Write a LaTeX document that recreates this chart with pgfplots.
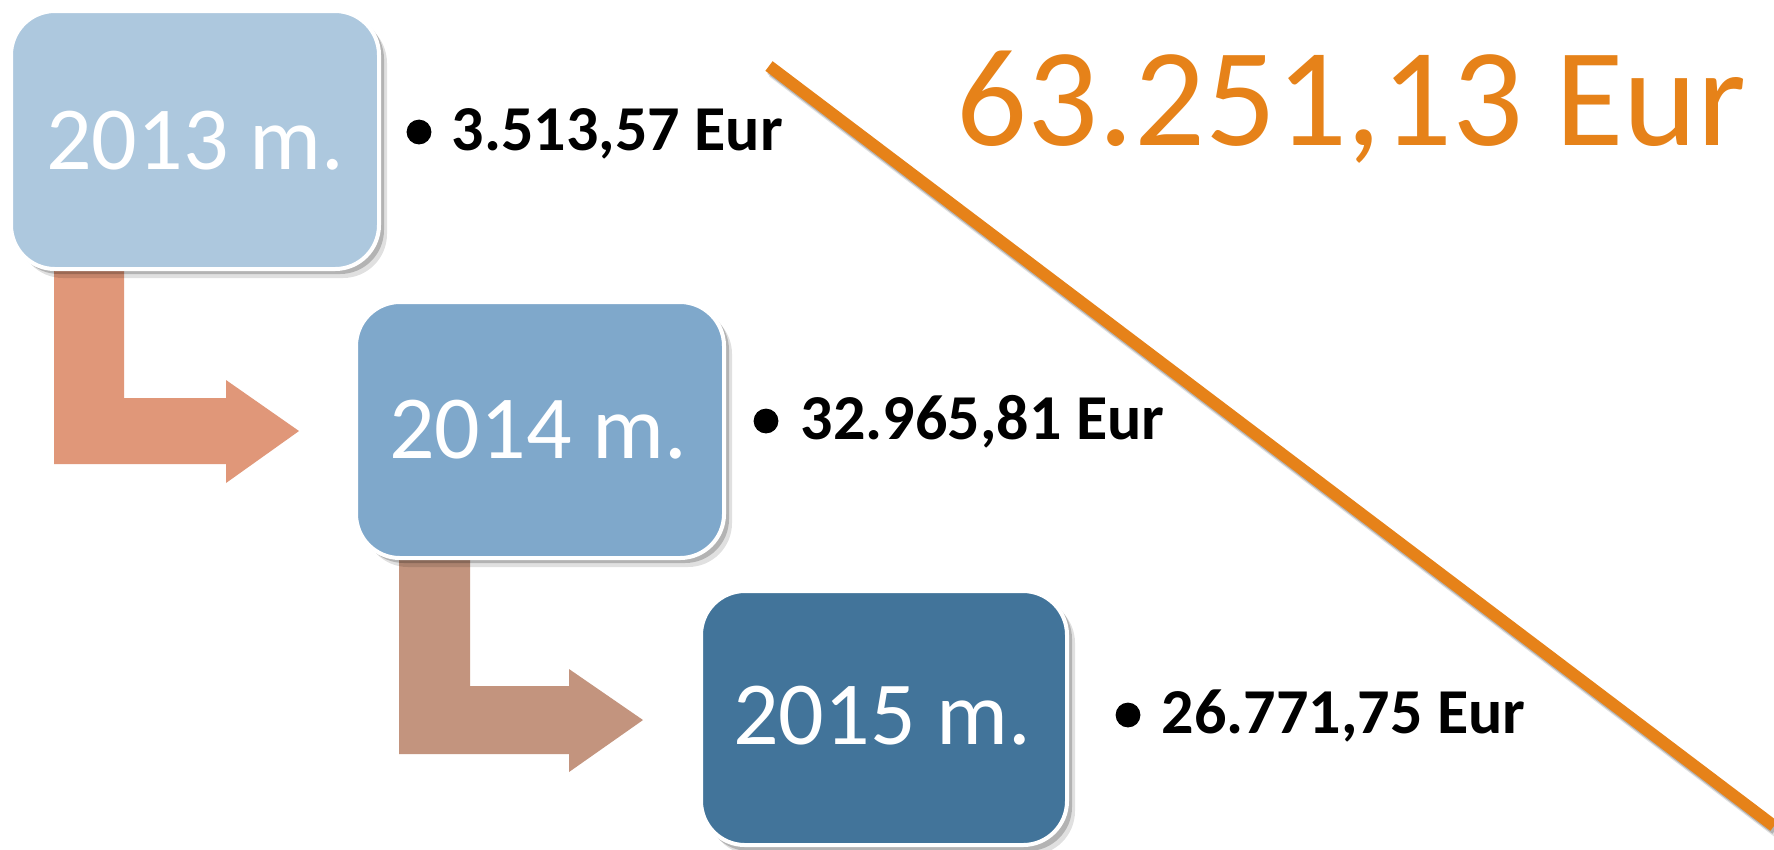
\documentclass[border=0pt]{standalone}
\usepackage{pgfplots}
\pgfplotsset{compat=1.18}
\usepackage{fontspec}
\setmainfont{Carlito}
\definecolor{boxA}{RGB}{173,200,222}
\definecolor{boxB}{RGB}{127,168,203}
\definecolor{boxC}{RGB}{66,116,154}
\definecolor{arrA}{RGB}{224,151,121}
\definecolor{arrB}{RGB}{195,148,126}
\definecolor{orng}{RGB}{230,130,25}
\begin{document}
\begin{tikzpicture}
\begin{axis}[name=ax, x=0.25pt, y=0.25pt, y dir=reverse,
  xmin=0, xmax=1774, ymin=0, ymax=849, hide axis, clip=true]
% background
\addplot[draw=none, fill=white] coordinates {(0,0) (1774,0) (1774,849) (0,849)} -- cycle;
% arrows
\addplot[draw=none, fill=arrA] coordinates {(54,262) (124,262) (124,398) (226,398) (226,380) (299,431) (226,483) (226,464) (54,464)} -- cycle;
\addplot[draw=none, fill=arrB] coordinates {(399,552) (470,552) (470,686) (569,686) (569,669) (643,720) (569,772) (569,754) (399,754)} -- cycle;
% orange line with shadow
\addplot[black, opacity=0.12, line width=3.4pt] coordinates {(773,71) (1778,831)};
\addplot[black, opacity=0.2, line width=3pt] coordinates {(771,69) (1776,829)};
\addplot[orng, line width=3pt] coordinates {(769,66) (1774,826)};
% box shadows
\addplot[draw=none, fill=black, opacity=0.12, rounded corners=11pt] coordinates {(19,19) (387,19) (387,278) (19,278)} -- cycle;
\addplot[draw=none, fill=black, opacity=0.2, rounded corners=11pt] coordinates {(15,15) (384,15) (384,274) (15,274)} -- cycle;
\addplot[draw=none, fill=black, opacity=0.12, rounded corners=11pt] coordinates {(364,310) (732,310) (732,567) (364,567)} -- cycle;
\addplot[draw=none, fill=black, opacity=0.2, rounded corners=11pt] coordinates {(360,306) (729,306) (729,563) (360,563)} -- cycle;
\addplot[draw=none, fill=black, opacity=0.12, rounded corners=11pt] coordinates {(709,599) (1075,599) (1075,855) (709,855)} -- cycle;
\addplot[draw=none, fill=black, opacity=0.2, rounded corners=11pt] coordinates {(705,595) (1072,595) (1072,851) (705,851)} -- cycle;
% boxes
\addplot[draw=white, line width=1pt, fill=boxA, rounded corners=11pt] coordinates {(11,11) (379,11) (379,269) (11,269)} -- cycle;
\addplot[draw=white, line width=1pt, fill=boxB, rounded corners=11pt] coordinates {(356,302) (724,302) (724,558) (356,558)} -- cycle;
\addplot[draw=white, line width=1pt, fill=boxC, rounded corners=11pt] coordinates {(701,591) (1067,591) (1067,845) (701,845)} -- cycle;
% box labels
\node[text=white, inner sep=0, font=\fontsize{22.5}{27}\selectfont] at (axis cs:195,141) {2013 m.};
\node[text=white, inner sep=0, font=\fontsize{22.5}{27}\selectfont] at (axis cs:538,430) {2014 m.};
\node[text=white, inner sep=0, font=\fontsize{22.5}{27}\selectfont] at (axis cs:882,716) {2015 m.};
% bullets
\addplot[only marks, mark=*, mark size=2.9pt, black] coordinates {(419,132) (766,421) (1128,715)};
\node[anchor=base west, inner sep=0, font=\bfseries\fontsize{16}{19}\selectfont] at (axis cs:451,150) {3.513,57 Eur};
\node[anchor=base west, inner sep=0, font=\bfseries\fontsize{16}{19}\selectfont] at (axis cs:800,439) {32.965,81 Eur};
\node[anchor=base west, inner sep=0, font=\bfseries\fontsize{16}{19}\selectfont] at (axis cs:1161,733) {26.771,75 Eur};
% total
\node[anchor=base west, inner sep=0, text=orng, font=\fontsize{35}{42}\selectfont] at (axis cs:956,145) {63.251,13 Eur};
\end{axis}
\pgfresetboundingbox
\path[use as bounding box] (ax.south west) rectangle (ax.north east);
\end{tikzpicture}
\end{document}
